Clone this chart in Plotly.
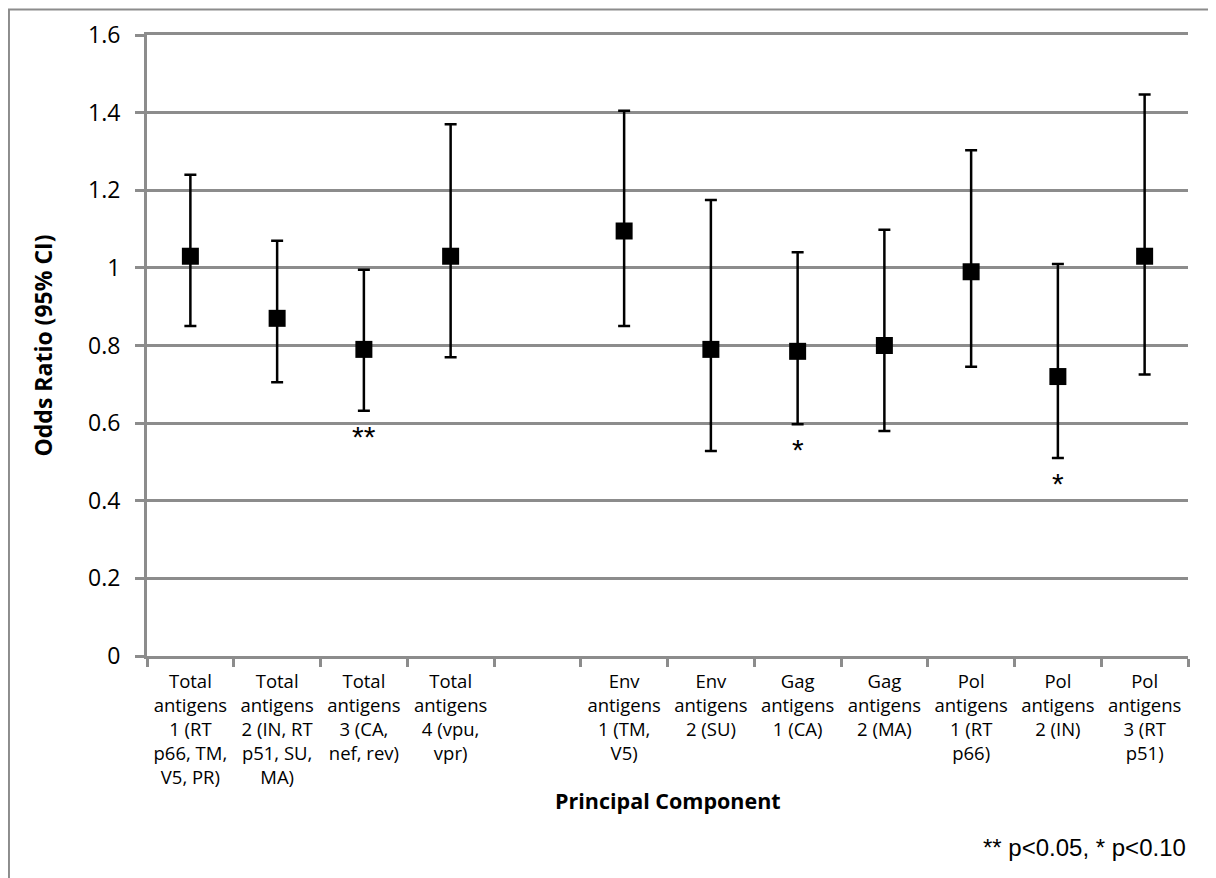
import plotly.graph_objects as go

categories = [
    "Total<br>antigens<br>1 (RT<br>p66, TM,<br>V5, PR)",
    "Total<br>antigens<br>2 (IN, RT<br>p51, SU,<br>MA)",
    "Total<br>antigens<br>3 (CA,<br>nef, rev)",
    "Total<br>antigens<br>4 (vpu,<br>vpr)",
    " ",
    "Env<br>antigens<br>1 (TM,<br>V5)",
    "Env<br>antigens<br>2 (SU)",
    "Gag<br>antigens<br>1 (CA)",
    "Gag<br>antigens<br>2 (MA)",
    "Pol<br>antigens<br>1 (RT<br>p66)",
    "Pol<br>antigens<br>2 (IN)",
    "Pol<br>antigens<br>3 (RT<br>p51)",
]
odds_ratio = [1.03, 0.87, 0.79, 1.03, None, 1.095, 0.79, 0.785, 0.80, 0.99, 0.72, 1.03]
ci_upper   = [1.24, 1.07, 0.995, 1.37, None, 1.405, 1.175, 1.04, 1.098, 1.303, 1.01, 1.447]
ci_lower   = [0.85, 0.705, 0.632, 0.77, None, 0.85, 0.528, 0.597, 0.58, 0.745, 0.51, 0.725]
significance = ["", "", "**", "", "", "", "", "*", "", "", "*", ""]

err_plus = [None if o is None else u - o for o, u in zip(odds_ratio, ci_upper)]
err_minus = [None if o is None else o - l for o, l in zip(odds_ratio, ci_lower)]

GRAY = "#8c8c8c"
FONT = "Open Sans"

fig = go.Figure()
fig.add_trace(go.Scatter(
    x=categories, y=odds_ratio, mode="markers",
    marker=dict(symbol="square", size=17, color="black"),
    error_y=dict(type="data", symmetric=False, array=err_plus, arrayminus=err_minus,
                 color="black", thickness=2.5, width=6),
    showlegend=False, hoverinfo="skip",
))

annotations = []
for c, s, l in zip(categories, significance, ci_lower):
    if s:
        annotations.append(dict(x=c, y=l, xref="x", yref="y", text=s, showarrow=False,
                                yanchor="top", yshift=-7,
                                font=dict(family="Liberation Sans", size=30, color="black")))
annotations.append(dict(x=0.5, y=-0.232, xref="paper", yref="paper", text="<b>Principal Component</b>",
                        showarrow=False, yanchor="middle", xanchor="center",
                        font=dict(family=FONT, size=21.5, color="black")))
annotations.append(dict(x=1.0, y=-0.3076, xref="paper", yref="paper", text="** p<0.05, * p<0.10",
                        showarrow=False, yanchor="middle", xanchor="right",
                        font=dict(family="Liberation Sans", size=24, color="black")))

fig.update_layout(
    width=1208, height=870,
    margin=dict(l=139, r=28, t=27, b=222),
    paper_bgcolor="white", plot_bgcolor="white",
    font=dict(family=FONT, size=19, color="black"),
    annotations=annotations,
    shapes=[dict(type="rect", xref="paper", yref="paper",
                 x0=-0.1326, x1=1.2, y0=-0.5, y1=1.041,
                 line=dict(color=GRAY, width=2), layer="below")],
    xaxis=dict(type="category", categoryorder="array", categoryarray=categories,
               range=[-0.5, 11.5], tickson="boundaries", ticks="outside", ticklen=8,
               tickwidth=3, tickcolor=GRAY, showline=True, linecolor=GRAY, linewidth=3,
               mirror=True, showgrid=False, zeroline=False, ticklabelstandoff=7,
               tickfont=dict(family=FONT, size=18.5, color="black"), tickangle=0,
               automargin=False),
    yaxis=dict(range=[0, 1.6], dtick=0.2, tick0=0, showgrid=True, gridcolor=GRAY, gridwidth=3,
               showline=True, linecolor=GRAY, linewidth=3, ticks="outside", ticklen=9,
               tickwidth=3, tickcolor=GRAY, zeroline=False, ticklabelstandoff=10,
               tickfont=dict(family=FONT, size=23, color="black"),
               title=dict(text="<b>Odds Ratio (95% CI)</b>", standoff=30,
                          font=dict(family=FONT, size=23, color="black")),
               automargin=False),
)

fig.write_html("out.html")
